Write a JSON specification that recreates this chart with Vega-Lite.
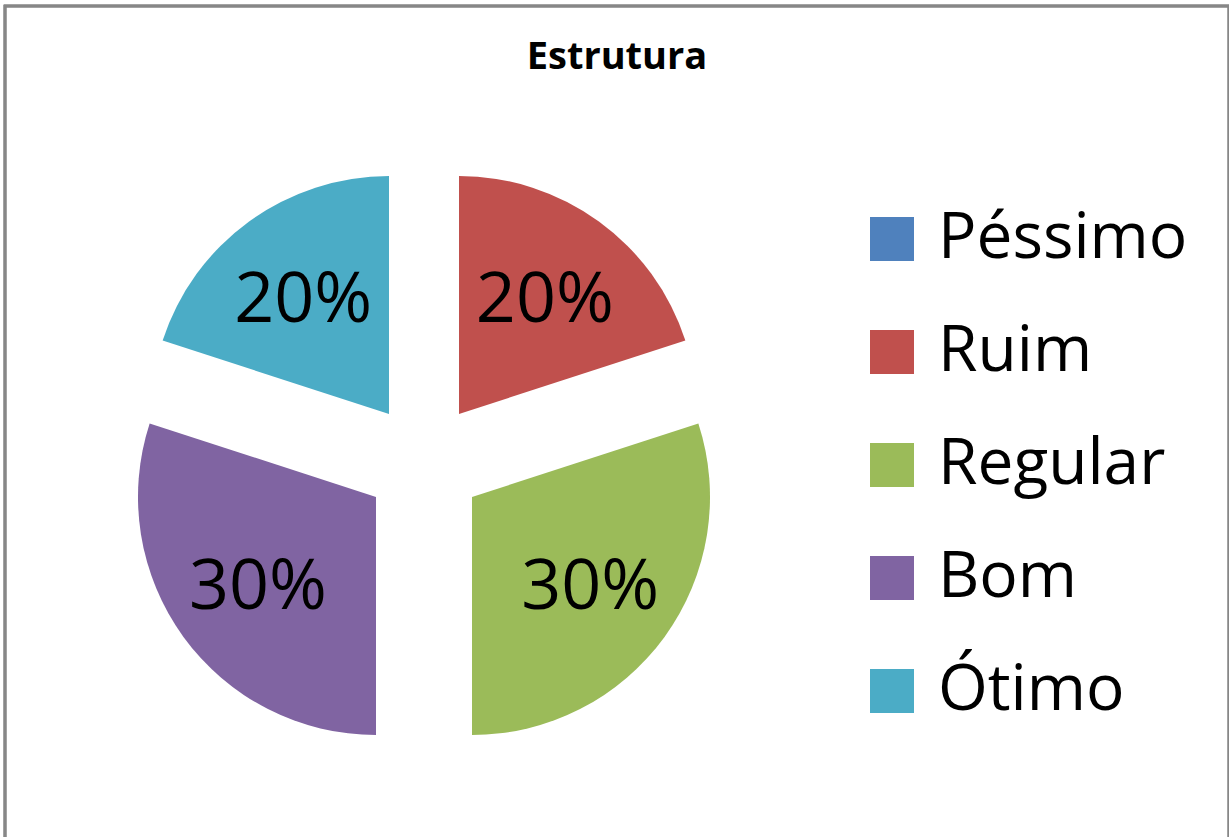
{
  "$schema": "https://vega.github.io/schema/vega-lite/v6.json",
  "autosize": "none",
  "padding": {"left": 5, "top": 6, "right": 0, "bottom": 0},
  "width": 1224,
  "height": 900,
  "background": "white",
  "title": {"text": "Estrutura", "font": "Open Sans", "fontWeight": "bold", "fontSize": 38, "color": "black", "anchor": "middle", "baseline": "alphabetic", "offset": -102},
  "data": {"values": [
    {"cat": "Péssimo", "idx": 1, "pct": 0, "label": "0%"},
    {"cat": "Ruim", "idx": 2, "pct": 20, "label": "20%"},
    {"cat": "Regular", "idx": 3, "pct": 30, "label": "30%"},
    {"cat": "Bom", "idx": 4, "pct": 30, "label": "30%"},
    {"cat": "Ótimo", "idx": 5, "pct": 20, "label": "20%"}
  ]},
  "layer": [
    {"mark": {"type": "rect", "fill": null, "fillOpacity": 0, "stroke": "#878787", "strokeWidth": 2.5},
     "encoding": {}},
    {"mark": {"type": "arc", "radius": 238, "xOffset": -158, "yOffset": -42},
     "encoding": {"theta": {"field": "pct", "type": "quantitative", "stack": true}, "order": {"field": "idx", "type": "quantitative"},
       "color": {"field": "cat", "type": "nominal", "scale": {"domain": ["Péssimo", "Ruim", "Regular", "Bom", "Ótimo"], "range": ["#4F81BD", "#C0504D", "#9BBB59", "#8064A2", "#4BACC6"]}, "legend": {"title": null}},
       "opacity": {"condition": {"test": "datum.cat === 'Ruim'", "value": 1}, "value": 0}}},
    {"mark": {"type": "arc", "radius": 238, "xOffset": -145, "yOffset": 41},
     "encoding": {"theta": {"field": "pct", "type": "quantitative", "stack": true}, "order": {"field": "idx", "type": "quantitative"},
       "color": {"field": "cat", "type": "nominal"},
       "opacity": {"condition": {"test": "datum.cat === 'Regular'", "value": 1}, "value": 0}}},
    {"mark": {"type": "arc", "radius": 238, "xOffset": -241, "yOffset": 41},
     "encoding": {"theta": {"field": "pct", "type": "quantitative", "stack": true}, "order": {"field": "idx", "type": "quantitative"},
       "color": {"field": "cat", "type": "nominal"},
       "opacity": {"condition": {"test": "datum.cat === 'Bom'", "value": 1}, "value": 0}}},
    {"mark": {"type": "arc", "radius": 238, "xOffset": -228, "yOffset": -42},
     "encoding": {"theta": {"field": "pct", "type": "quantitative", "stack": true}, "order": {"field": "idx", "type": "quantitative"},
       "color": {"field": "cat", "type": "nominal"},
       "opacity": {"condition": {"test": "datum.cat === 'Ótimo'", "value": 1}, "value": 0}}},
    {"mark": {"type": "text", "radius": 146, "xOffset": -158, "yOffset": -42, "dy": 5, "font": "Open Sans", "fontSize": 70, "fill": "black", "align": "center", "baseline": "middle"},
     "encoding": {"theta": {"field": "pct", "type": "quantitative", "stack": true}, "order": {"field": "idx", "type": "quantitative"},
       "detail": {"field": "cat"}, "text": {"field": "label"},
       "opacity": {"condition": {"test": "datum.cat === 'Ruim'", "value": 1}, "value": 0}}},
    {"mark": {"type": "text", "radius": 146, "xOffset": -145, "yOffset": 41, "dy": 5, "font": "Open Sans", "fontSize": 70, "fill": "black", "align": "center", "baseline": "middle"},
     "encoding": {"theta": {"field": "pct", "type": "quantitative", "stack": true}, "order": {"field": "idx", "type": "quantitative"},
       "detail": {"field": "cat"}, "text": {"field": "label"},
       "opacity": {"condition": {"test": "datum.cat === 'Regular'", "value": 1}, "value": 0}}},
    {"mark": {"type": "text", "radius": 146, "xOffset": -241, "yOffset": 41, "dy": 5, "font": "Open Sans", "fontSize": 70, "fill": "black", "align": "center", "baseline": "middle"},
     "encoding": {"theta": {"field": "pct", "type": "quantitative", "stack": true}, "order": {"field": "idx", "type": "quantitative"},
       "detail": {"field": "cat"}, "text": {"field": "label"},
       "opacity": {"condition": {"test": "datum.cat === 'Bom'", "value": 1}, "value": 0}}},
    {"mark": {"type": "text", "radius": 146, "xOffset": -228, "yOffset": -42, "dy": 5, "font": "Open Sans", "fontSize": 70, "fill": "black", "align": "center", "baseline": "middle"},
     "encoding": {"theta": {"field": "pct", "type": "quantitative", "stack": true}, "order": {"field": "idx", "type": "quantitative"},
       "detail": {"field": "cat"}, "text": {"field": "label"},
       "opacity": {"condition": {"test": "datum.cat === 'Ótimo'", "value": 1}, "value": 0}}}
  ],
  "config": {
    "view": {"stroke": "#878787", "strokeWidth": 2.5},
    "legend": {"orient": "none", "legendX": 855, "legendY": 201, "symbolType": "square", "symbolSize": 1936, "symbolStrokeWidth": 0, "labelFont": "Open Sans", "labelFontSize": 64, "labelColor": "black", "labelOffset": 14, "labelLimit": 500, "rowPadding": 49, "padding": 0}
  }
}
